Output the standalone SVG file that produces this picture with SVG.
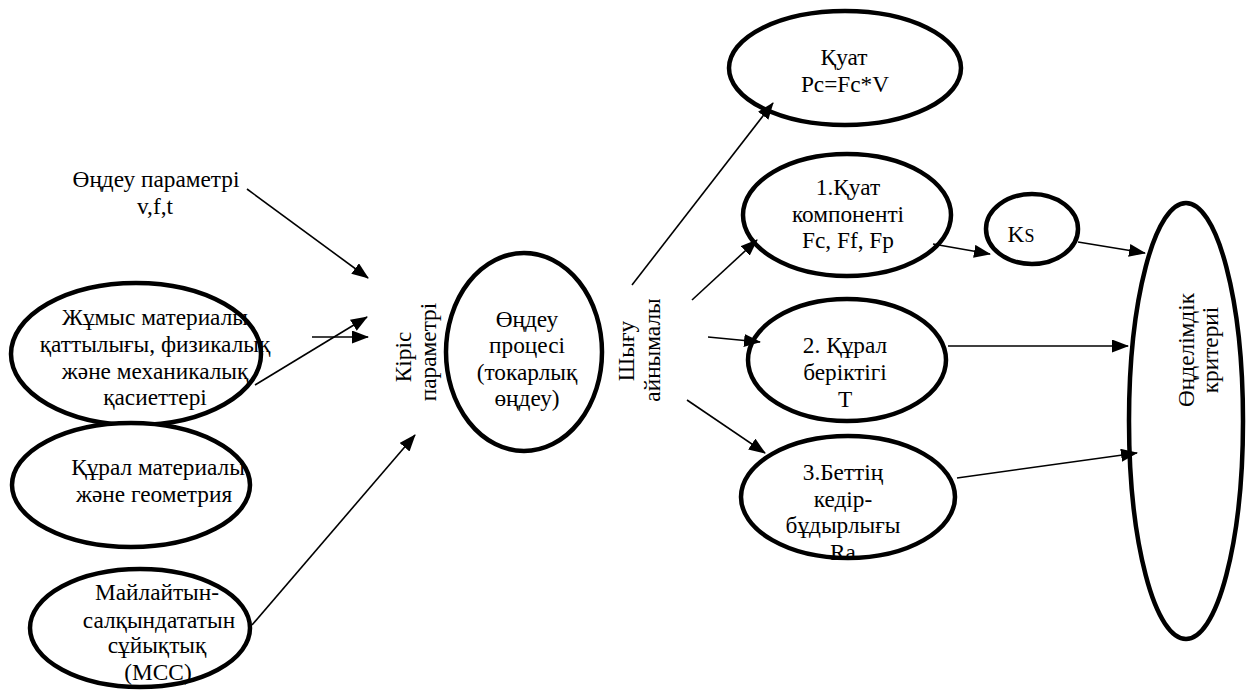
<svg xmlns="http://www.w3.org/2000/svg" width="1249" height="693" viewBox="0 0 1249 693">
<style>
text { font-family: 'Liberation Serif', 'Times New Roman', serif; font-size: 23.3px; fill: #000; }
.c { text-anchor: middle; }
.bg { fill: #fff; stroke: none; }
.ring { fill: none; stroke: #000; stroke-width: 4.5; }
.ln { stroke: #000; stroke-width: 1.6; fill: none; marker-end: url(#ah); }
</style>
<defs>
<marker id="ah" markerUnits="userSpaceOnUse" markerWidth="18" markerHeight="14" refX="16" refY="6.5" orient="auto">
<path d="M0,0 L17,6.5 L0,13 z" fill="#000"/>
</marker>
</defs>
<rect width="1249" height="693" fill="#fff"/>

<g id="n-params">
<text class="c" x="156" y="187">Өңдеу параметрі</text>
<text class="c" x="155" y="214">v,f,t</text>
</g>

<g id="n-work">
<ellipse class="bg" cx="136" cy="354" rx="125" ry="71"/>
<text class="c" x="155" y="325">Жұмыс материалы</text>
<text class="c" x="155" y="352">қаттылығы, физикалық</text>
<text class="c" x="155" y="379">және механикалық</text>
<text class="c" x="155" y="405">қасиеттері</text>
<ellipse class="ring" cx="136" cy="354" rx="125" ry="71"/>
</g>

<g id="n-tool">
<ellipse class="bg" cx="131" cy="485" rx="119" ry="62"/>
<text class="c" x="158" y="475">Құрал материалы</text>
<text class="c" x="154" y="502">және геометрия</text>
<ellipse class="ring" cx="131" cy="485" rx="119" ry="62"/>
</g>

<g id="n-fluid">
<ellipse class="bg" cx="140" cy="628" rx="110" ry="59"/>
<text class="c" x="157" y="600">Майлайтын-</text>
<text class="c" x="159" y="628">салқындататын</text>
<text class="c" x="157" y="653">сұйықтық</text>
<text class="c" x="158" y="680">(МСС)</text>
<ellipse class="ring" cx="140" cy="628" rx="110" ry="59"/>
</g>

<g id="lbl-input">
<text class="c" transform="translate(411,357) rotate(-90)">Кіріс</text>
<text class="c" transform="translate(436,352) rotate(-90)">параметрі</text>
</g>

<g id="n-process">
<ellipse class="bg" cx="524" cy="352" rx="78" ry="99"/>
<text class="c" x="527" y="327">Өңдеу</text>
<text class="c" x="527" y="353">процесі</text>
<text class="c" x="527" y="380">(токарлық</text>
<text class="c" x="527" y="406">өңдеу)</text>
<ellipse class="ring" cx="524" cy="352" rx="78" ry="99"/>
</g>

<g id="lbl-output">
<text class="c" transform="translate(634,351) rotate(-90)">Шығу</text>
<text class="c" transform="translate(660,350) rotate(-90)">айнымалы</text>
</g>

<g id="n-power">
<ellipse class="bg" cx="845" cy="68" rx="116" ry="57"/>
<text class="c" x="844" y="65">Қуат</text>
<text class="c" x="845" y="92">Pc=Fc*V</text>
<ellipse class="ring" cx="845" cy="68" rx="116" ry="57"/>
</g>

<g id="n-force">
<ellipse class="bg" cx="847" cy="215" rx="104" ry="61"/>
<text class="c" x="848" y="195">1.Қуат</text>
<text class="c" x="848" y="222">компоненті</text>
<text class="c" x="848" y="248">Fc, Ff, Fp</text>
<ellipse class="ring" cx="847" cy="215" rx="104" ry="61"/>
</g>

<g id="n-ks">
<ellipse class="bg" cx="1032" cy="229" rx="46" ry="35"/>
<text class="c" x="1021" y="242">K<tspan style="font-size:18px">S</tspan></text>
<ellipse class="ring" cx="1032" cy="229" rx="46" ry="35"/>
</g>

<g id="n-life">
<ellipse class="bg" cx="847" cy="360" rx="99" ry="61"/>
<text class="c" x="845" y="353">2. Құрал</text>
<text class="c" x="845" y="380">беріктігі</text>
<text class="c" x="845" y="407">T</text>
<ellipse class="ring" cx="847" cy="360" rx="99" ry="61"/>
</g>

<g id="n-rough">
<ellipse class="bg" cx="848" cy="497" rx="107" ry="61"/>
<text class="c" x="843" y="480">3.Беттің</text>
<text class="c" x="843" y="507">кедір-</text>
<text class="c" x="843" y="533">бұдырлығы</text>
<text class="c" x="843" y="560">Ra</text>
<ellipse class="ring" cx="848" cy="497" rx="107" ry="61"/>
</g>

<g id="n-criteria">
<ellipse class="bg" cx="1186" cy="421" rx="57" ry="218"/>
<text class="c" transform="translate(1194,350) rotate(-90)">Өңделімдік</text>
<text class="c" transform="translate(1218,350) rotate(-90)">критериі</text>
<ellipse class="ring" cx="1186" cy="421" rx="57" ry="218"/>
</g>

<g id="connectors">
<line class="ln" x1="247" y1="189" x2="368" y2="278"/>
<line class="ln" x1="255" y1="385" x2="367" y2="317"/>
<line class="ln" x1="312" y1="337" x2="368" y2="337"/>
<line class="ln" x1="252" y1="625" x2="415" y2="435"/>
<line class="ln" x1="632" y1="285" x2="773" y2="103"/>
<line class="ln" x1="692" y1="300" x2="757" y2="240"/>
<line class="ln" x1="708" y1="337" x2="760" y2="342"/>
<line class="ln" x1="687" y1="400" x2="765" y2="453"/>
<line class="ln" x1="933" y1="244" x2="990" y2="254"/>
<line class="ln" x1="1078" y1="242" x2="1145" y2="253"/>
<line class="ln" x1="948" y1="346" x2="1128" y2="346"/>
<line class="ln" x1="957" y1="478" x2="1137" y2="453"/>
</g>
</svg>
